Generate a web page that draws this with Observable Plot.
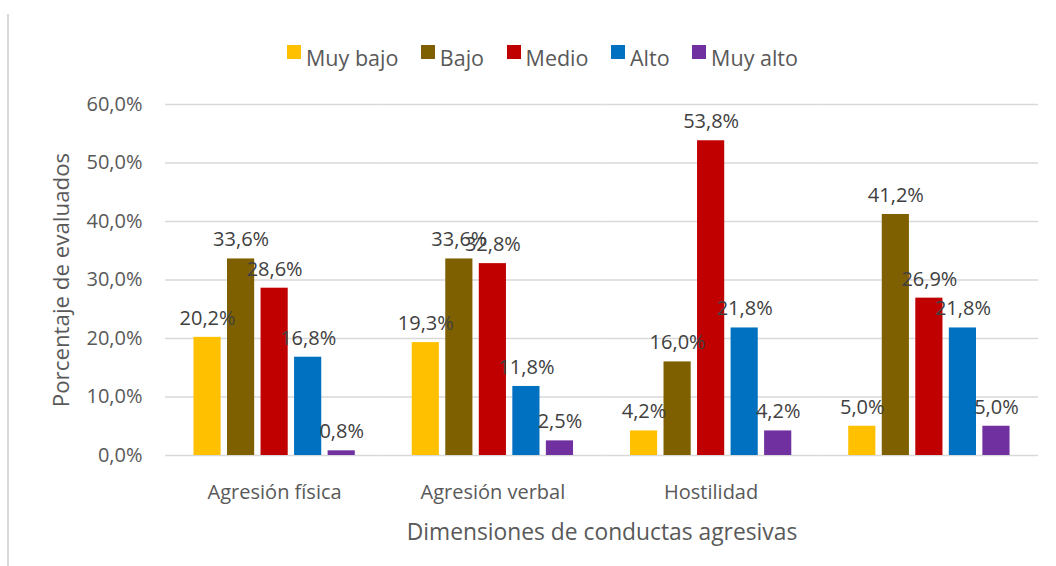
<!DOCTYPE html>
<html><head><meta charset="utf-8">
<script src="https://cdn.jsdelivr.net/npm/d3@7"></script>
<script src="https://cdn.jsdelivr.net/npm/@observablehq/plot@0.6"></script>
<style>
body{margin:0;background:#fff;font-family:"Open Sans",sans-serif;}
#wrap{position:relative;width:1056px;height:566px;overflow:hidden;}
#border{position:absolute;left:7px;top:14px;width:2px;height:552px;background:#d9d9d9;z-index:2;}
#legend{position:absolute;top:43px;left:287px;display:flex;color:#595959;font-size:21.5px;line-height:29px;}
#legend .it{display:flex;align-items:flex-start;margin-right:22.5px;}
#legend .sw{width:14px;height:14px;margin-top:2px;margin-right:5px;}
#chart{position:absolute;top:80px;left:0;}
</style></head>
<body><div id="wrap"><div id="border"></div><div id="legend"></div><div id="chart"></div></div>
<script>
const categories = ["Agresión física", "Agresión verbal", "Hostilidad", " "];
const levels = ["Muy bajo", "Bajo", "Medio", "Alto", "Muy alto"];
const colors = ["#FFC000", "#7F6000", "#C00000", "#0070C0", "#7030A0"];
const muyBajo = [20.2, 19.3, 4.2, 5.0];
const bajo    = [33.6, 33.6, 16.0, 41.2];
const medio   = [28.6, 32.8, 53.8, 26.9];
const alto    = [16.8, 11.8, 21.8, 21.8];
const muyAlto = [0.8, 2.5, 4.2, 5.0];
const yTicks = [0, 10, 20, 30, 40, 50, 60];

const series = [muyBajo, bajo, medio, alto, muyAlto];
const data = [];
categories.forEach((c, i) => levels.forEach((l, j) => data.push({cat: c, level: l, value: series[j][i]})));

const fmt = v => v.toFixed(1).replace(".", ",") + "%";

const leg = document.getElementById("legend");
levels.forEach((l, j) => {
  const it = document.createElement("div"); it.className = "it";
  const sw = document.createElement("div"); sw.className = "sw"; sw.style.background = colors[j];
  const tx = document.createElement("span"); tx.textContent = l;
  it.append(sw, tx); leg.append(it);
});

const chart = Plot.plot({
  width: 1056, height: 486,
  marginLeft: 165, marginRight: 18, marginTop: 24, marginBottom: 111,
  style: {fontFamily: "Open Sans, sans-serif", fontSize: "20px", color: "#595959", background: "none"},
  fx: {domain: categories, padding: 0, round: false, label: null},
  x: {domain: levels, paddingInner: 0.19, paddingOuter: 0.849, round: false, axis: null},
  y: {domain: [0, 60], ticks: yTicks, label: null},
  color: {domain: levels, range: colors},
  marks: [
    Plot.gridY(yTicks, {stroke: "#d9d9d9", strokeOpacity: 1, strokeWidth: 1.3}),
    Plot.axisY(yTicks, {tickSize: 0, tickPadding: 23, tickFormat: fmt, fontSize: 20, fill: "#595959",
      label: "Porcentaje de evaluados", labelAnchor: "center", labelArrow: "none", labelOffset: 112}),
    Plot.axisFx({anchor: "bottom", tickSize: 0, tickPadding: 29, fontSize: 20, fill: "#595959",
      label: "Dimensiones de conductas agresivas", labelAnchor: "center", labelArrow: "none", labelOffset: 84}),
    Plot.barY(data, {fx: "cat", x: "level", y: "value", fill: "level"}),
    Plot.text(data, {fx: "cat", x: "level", y: "value", text: d => fmt(d.value), dy: -19, fill: "#404040", fontSize: 20})
  ]
});
chart.querySelectorAll("[aria-label='y-axis label'] text").forEach(t => t.setAttribute("font-size", 22.3));
chart.querySelectorAll("[aria-label='fx-axis label'] text").forEach(t => t.setAttribute("font-size", 22.8));
document.getElementById("chart").append(chart);
</script></body></html>
